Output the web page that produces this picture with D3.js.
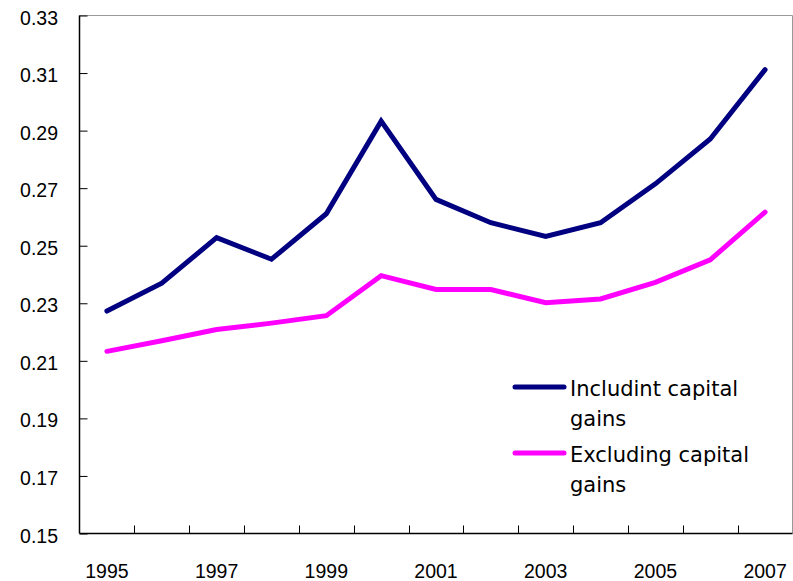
<!DOCTYPE html>
<html>
<head>
<meta charset="utf-8">
<style>
  body { margin: 0; background: #fff; }
  text { font-family: "DejaVu Sans", sans-serif; fill: #000; }
  .tick-label { font-family: "Liberation Sans", Arial, sans-serif; }
</style>
</head>
<body>
<svg id="chart" width="793" height="581"></svg>
<script src="https://cdn.jsdelivr.net/npm/d3@7/dist/d3.min.js"></script>
<script>
const years = ['1995','1996','1997','1998','1999','2000','2001','2002','2003','2004','2005','2006','2007'];
const including = [0.2273, 0.2370, 0.2528, 0.2453, 0.2611, 0.2933, 0.2661, 0.2580, 0.2532, 0.2580, 0.2715, 0.2871, 0.3112];
const excluding = [0.2133, 0.2170, 0.2209, 0.2231, 0.2257, 0.2396, 0.2348, 0.2348, 0.2302, 0.2315, 0.2373, 0.2451, 0.2617];
const yTicks = [0.15, 0.17, 0.19, 0.21, 0.23, 0.25, 0.27, 0.29, 0.31, 0.33];
const labelYears = ['1995','1997','1999','2001','2003','2005','2007'];
const series = [
  { name: ['Includint capital', 'gains'], values: including, color: '#000080' },
  { name: ['Excluding capital', 'gains'], values: excluding, color: '#ff00ff' }
];

const svg = d3.select('#chart');
const mLeft = 79.5, mRight = 792.5, mTop = 15.5, mBottom = 533.5;

const x = d3.scaleBand().domain(years).range([mLeft, mRight]);
const y = d3.scaleLinear().domain([0.15, 0.33]).range([mBottom, mTop]);

// frame: grey top/right, black axes
svg.append('path')
  .attr('d', `M${mLeft},${mTop}H${mRight}V${mBottom}`)
  .attr('fill', 'none').attr('stroke', '#999').attr('stroke-width', 1);

// y axis, ticks inside
const yAxis = svg.append('g')
  .attr('transform', `translate(${mLeft},0)`)
  .call(d3.axisRight(y).tickValues(yTicks).tickSize(8).tickFormat(''));
yAxis.select('.domain').attr('d', `M0,${mTop}V${mBottom}`).attr('stroke', '#000').attr('stroke-width', 1.5);
yAxis.selectAll('.tick line').attr('stroke', '#000');

svg.append('g').selectAll('text')
  .data(yTicks).enter().append('text')
  .attr('class', 'tick-label')
  .attr('x', 58).attr('y', d => y(d) + 2)
  .attr('dy', '0.36em')
  .attr('text-anchor', 'end')
  .attr('font-size', 19.5)
  .text(d => d.toFixed(2));

// x axis, ticks between categories pointing up
const xAxis = svg.append('g')
  .attr('transform', `translate(0,${mBottom})`);
xAxis.append('line')
  .attr('x1', mLeft).attr('x2', mRight).attr('y1', 0).attr('y2', 0)
  .attr('stroke', '#000').attr('stroke-width', 1.5);
xAxis.selectAll('.xt')
  .data(years.slice(1)).enter().append('line')
  .attr('class', 'xt')
  .attr('x1', d => Math.round(x(d)) + 0.5).attr('x2', d => Math.round(x(d)) + 0.5)
  .attr('y1', 0).attr('y2', -8)
  .attr('stroke', '#000');
xAxis.selectAll('text')
  .data(labelYears).enter().append('text')
  .attr('class', 'tick-label')
  .attr('x', d => x(d) + x.bandwidth() / 2)
  .attr('y', 44.5)
  .attr('text-anchor', 'middle')
  .attr('font-size', 19.5)
  .text(d => d);

// lines
const line = d3.line()
  .x((d, i) => x(years[i]) + x.bandwidth() / 2)
  .y(d => y(d));

svg.append('g').selectAll('path')
  .data(series).enter().append('path')
  .attr('d', d => line(d.values))
  .attr('fill', 'none')
  .attr('stroke', d => d.color)
  .attr('stroke-width', 5)
  .attr('stroke-linejoin', 'miter')
  .attr('stroke-linecap', 'round');

// legend
const legend = svg.append('g');
series.forEach((s, i) => {
  const ly = 387 + i * 66;
  legend.append('line')
    .attr('x1', 515).attr('x2', 564).attr('y1', ly).attr('y2', ly)
    .attr('stroke', s.color).attr('stroke-width', 5).attr('stroke-linecap', 'round');
  s.name.forEach((t, j) => {
    legend.append('text')
      .attr('x', 570).attr('y', ly + 1 + j * 30)
      .attr('dy', '0.36em')
      .attr('font-size', 21)
      .text(t);
  });
});
</script>
</body>
</html>
